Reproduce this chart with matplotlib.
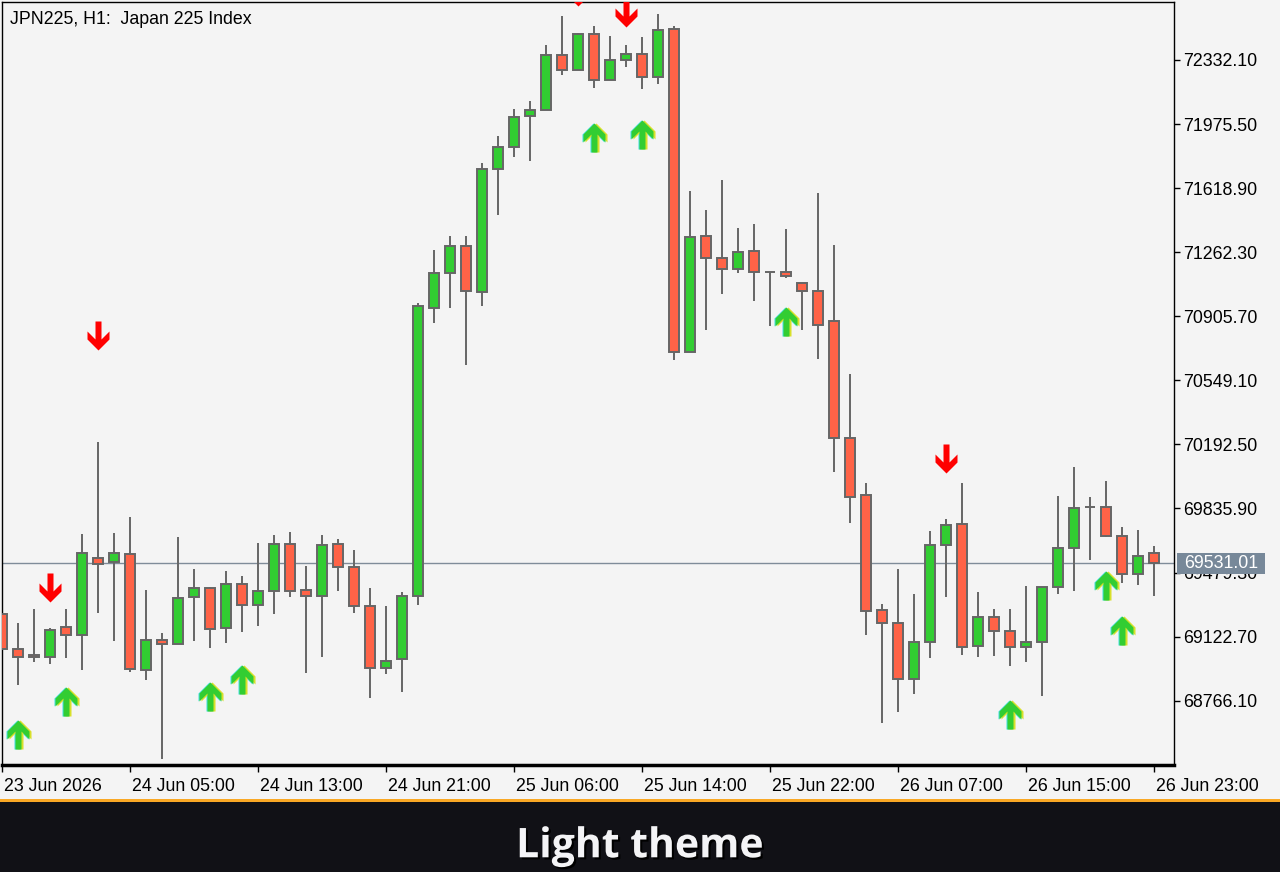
import matplotlib
matplotlib.use('Agg')
import matplotlib.pyplot as plt
import numpy as np
from matplotlib.path import Path
from matplotlib.markers import MarkerStyle
from matplotlib.patches import Rectangle
import matplotlib.patheffects as pe
from matplotlib import transforms as mtransforms

plt.rcParams['font.family'] = ['Liberation Sans', 'DejaVu Sans']

title_text = "JPN225, H1:  Japan 225 Index"
banner_text = "Light theme"

opens = [69247.0, 69052.2, 69018.8, 69011.0, 69174.6, 69133.4, 69558.7, 69539.7, 69580.9, 68935.3,
         69102.3, 69080.0, 69341.6, 69391.7, 69169.1, 69414.0, 69297.1, 69375.0, 69636.6, 69380.6,
         69347.2, 69636.6, 69508.6, 69291.5, 68946.4, 68996.5, 69347.2, 70950.1, 71144.9, 71295.2,
         71039.2, 71723.8, 71846.2, 72018.7, 72052.1, 72358.3, 72274.8, 72475.1, 72219.1, 72330.4,
         72363.8, 72235.8, 72503.0, 70705.2, 71350.8, 71228.4, 71167.2, 71267.4, 71150.5, 71150.5,
         71089.3, 71044.7, 70877.8, 70226.6, 69909.3, 69269.2, 69196.9, 68885.2, 69091.1, 69631.0,
         69747.9, 69068.9, 69230.3, 69152.3, 69063.3, 69091.1, 69397.3, 69614.3, 69842.5, 69842.5,
         69681.1, 69469.6, 69586.5]
highs = [69282.0, 69196.9, 69274.8, 69169.1, 69276.5, 69693.9, 70204.3, 69697.8, 69786.9, 69382.2,
         69142.9, 69677.2, 69499.1, 69397.3, 69486.3, 69460.2, 69642.1, 69686.7, 69703.4, 69515.8,
         69688.3, 69666.1, 69604.9, 69393.4, 69293.2, 69371.1, 70977.9, 71274.6, 71352.5, 71352.5,
         71758.8, 71909.1, 72059.4, 72103.9, 72415.6, 72577.0, 72480.7, 72521.3, 72465.7, 72415.6,
         72460.1, 72588.1, 72521.3, 71603.0, 71497.2, 71664.2, 71397.0, 71419.3, 71150.5, 71391.5,
         71089.3, 71591.8, 71302.4, 70584.4, 69977.8, 69304.3, 69499.1, 69360.0, 69710.6, 69777.4,
         69977.8, 69371.1, 69276.5, 69276.5, 69404.5, 69397.3, 69905.4, 70066.8, 69899.8, 69988.9,
         69732.9, 69716.2, 69627.1]
lows = [68992.6, 68853.5, 68983.1, 68970.4, 69003.8, 68937.0, 69255.9, 69098.4, 68927.5, 68881.3,
        68441.6, 69080.0, 69098.4, 69061.1, 69088.9, 69150.1, 69183.5, 69250.3, 69344.9, 68921.9,
        69011.0, 69378.3, 69255.9, 68782.8, 68916.4, 68816.2, 69300.4, 70870.0, 70953.5, 70636.2,
        70964.6, 71469.4, 71793.9, 71771.6, 72052.1, 72250.3, 72274.8, 72177.9, 72219.1, 72294.8,
        72172.4, 72200.2, 70662.4, 70705.2, 70829.3, 71029.7, 71148.3, 70992.4, 70853.3, 71120.4,
        70829.3, 70669.6, 70040.7, 69756.8, 69133.4, 68643.6, 68704.9, 68805.1, 69005.4, 69344.9,
        69022.1, 69011.0, 69016.5, 68960.9, 68983.1, 68793.9, 69361.6, 69378.3, 69550.9, 69675.5,
        69422.9, 69411.7, 69350.5]
closes = [69052.2, 69011.0, 69007.6, 69157.9, 69133.4, 69586.5, 69525.3, 69586.5, 68940.9, 69102.3,
          69080.0, 69336.0, 69391.7, 69163.5, 69414.0, 69297.1, 69375.0, 69636.6, 69375.0, 69347.2,
          69631.0, 69508.6, 69291.5, 68946.4, 68985.4, 69347.2, 70961.2, 71144.9, 71295.2, 71044.7,
          71723.8, 71846.2, 72013.2, 72052.1, 72358.3, 72274.8, 72475.1, 72219.1, 72330.4, 72363.8,
          72235.8, 72497.4, 70705.2, 71345.3, 71228.4, 71167.2, 71261.8, 71150.5, 71150.5, 71128.2,
          71044.7, 70855.5, 70226.6, 69898.2, 69267.0, 69196.9, 68885.2, 69091.1, 69631.0, 69742.3,
          69063.3, 69230.3, 69152.3, 69063.3, 69091.1, 69397.3, 69614.3, 69836.9, 69842.5, 69681.1,
          69469.6, 69569.8, 69531.01]

# signal arrows (bar index, price of arrow tip)
up_idx = [1, 4, 13, 15, 37, 40, 49, 63, 69, 70]
up_price = [68658.7, 68842.3, 68870.2, 68964.8, 71981.5, 71998.2, 70957.3, 68770.0, 69488.0, 69237.5]
down_idx = [3, 6, 36, 39, 59]
down_price = [69315.4, 70718.0, 72632.7, 72515.8, 70033.4]

xtick_idx = [0, 8, 16, 24, 32, 40, 48, 56, 64, 72]
xtick_labels = ["23 Jun 2026", "24 Jun 05:00", "24 Jun 13:00", "24 Jun 21:00", "25 Jun 06:00",
                "25 Jun 14:00", "25 Jun 22:00", "26 Jun 07:00", "26 Jun 15:00", "26 Jun 23:00"]
ytick_values = [68766.10, 69122.70, 69479.30, 69835.90, 70192.50, 70549.10, 70905.70,
                71262.30, 71618.90, 71975.50, 72332.10]
y_range = (68408.1, 72654.9)
x_range = (-0.02, 73.23)

BG = '#F4F4F4'
GREEN = '#32CD32'
RED = '#FF6347'
WICK = '#666666'

fig = plt.figure(figsize=(12.8, 8.72), dpi=100, facecolor=BG)
ax = fig.add_axes([2/1280, 1-765/872, 1172/1280, 763/872])
ax.set_facecolor(BG)

o = np.array(opens); c = np.array(closes); h = np.array(highs); l = np.array(lows)
idx = np.arange(len(o))
colors = [GREEN if cc > oo else (RED if cc < oo else WICK) for oo, cc in zip(o, c)]

ax.axhline(closes[-1], color='#7F8C99', lw=1.0, zorder=1)
ax.vlines(idx, l, h, color=WICK, lw=1.4, zorder=2)
ax.bar(idx, np.abs(c - o), bottom=np.minimum(o, c), width=0.64, color=colors,
       edgecolor=WICK, linewidth=1.4, zorder=3)

# arrow markers
up_verts = [(0, 0), (11, -11), (11, -19), (3, -11), (3, -29), (-3, -29), (-3, -11),
            (-11, -19), (-11, -11), (0, 0)]
up_path = Path(up_verts, closed=True)
down_path = Path([(x, -y) for x, y in up_verts], closed=True)
ms = 2 * 29 * 0.72

for dx, col, z in [(-1.2, '#3FE0E0', 4), (1.2, '#D8E02A', 4), (0, GREEN, 5)]:
    tr = mtransforms.offset_copy(ax.transData, fig=fig, x=dx, y=0, units='dots')
    ax.plot(up_idx, up_price, linestyle='none', marker=MarkerStyle(up_path), markersize=ms,
            markerfacecolor=col, markeredgewidth=0, transform=tr, zorder=z)
ax.plot(down_idx, down_price, linestyle='none', marker=MarkerStyle(down_path), markersize=ms,
        markerfacecolor='#FF0000', markeredgewidth=0, zorder=5)

ax.set_xlim(*x_range)
ax.set_ylim(*y_range)

ax.yaxis.tick_right()
ax.set_yticks(ytick_values)
ax.set_yticklabels([f"{v:.2f}" for v in ytick_values])
ax.tick_params(axis='y', direction='out', length=4, width=1, pad=2.5, labelsize=12.75,
               colors='black')
ax.set_xticks(xtick_idx)
ax.set_xticklabels(xtick_labels)
ax.tick_params(axis='x', direction='out', length=5, width=1, pad=4, labelsize=12.75,
               colors='black')
for lab in ax.get_xticklabels():
    lab.set_horizontalalignment('left')
    lab.set_transform(lab.get_transform() + mtransforms.ScaledTranslation(2/100, 0, fig.dpi_scale_trans))

for s in ax.spines.values():
    s.set_color('black'); s.set_linewidth(1.0)
ax.spines['bottom'].set_linewidth(2.5)

fig.text(10/1280, 1-24/872, title_text, fontsize=12.75, ha='left', va='baseline', color='black')

# current price label
fig.canvas.draw()
y_disp = ax.transData.transform((0, closes[-1]))[1]
x_ax_right = ax.transAxes.transform((1, 0))[0]
fig.add_artist(Rectangle((x_ax_right + 3, y_disp - 10.5), 88, 21, transform=mtransforms.IdentityTransform(),
                         facecolor='#778899', edgecolor='none', zorder=10))
fig.text(x_ax_right + 47, y_disp, f"{closes[-1]:.2f}", transform=mtransforms.IdentityTransform(),
         ha='center', va='center', fontsize=12.75, color='white', zorder=11)

# bottom banner
fig.add_artist(Rectangle((0, 0), 1, 70/872, transform=fig.transFigure, facecolor='#111116',
                         edgecolor='none', zorder=0))
fig.add_artist(Rectangle((0, 70/872), 1, 3/872, transform=fig.transFigure, facecolor='#F9A825',
                         edgecolor='none', zorder=0))
fig.text(0.5, 14.7/872, banner_text, ha='center', va='baseline', fontfamily=['Open Sans', 'DejaVu Sans'],
         fontweight='bold', fontsize=29.5, color='#F4F4F6',
         path_effects=[pe.withSimplePatchShadow(offset=(1.5, -1.5), shadow_rgbFace='black', alpha=1.0)])

fig.savefig('out.png', dpi=100, facecolor=BG)
